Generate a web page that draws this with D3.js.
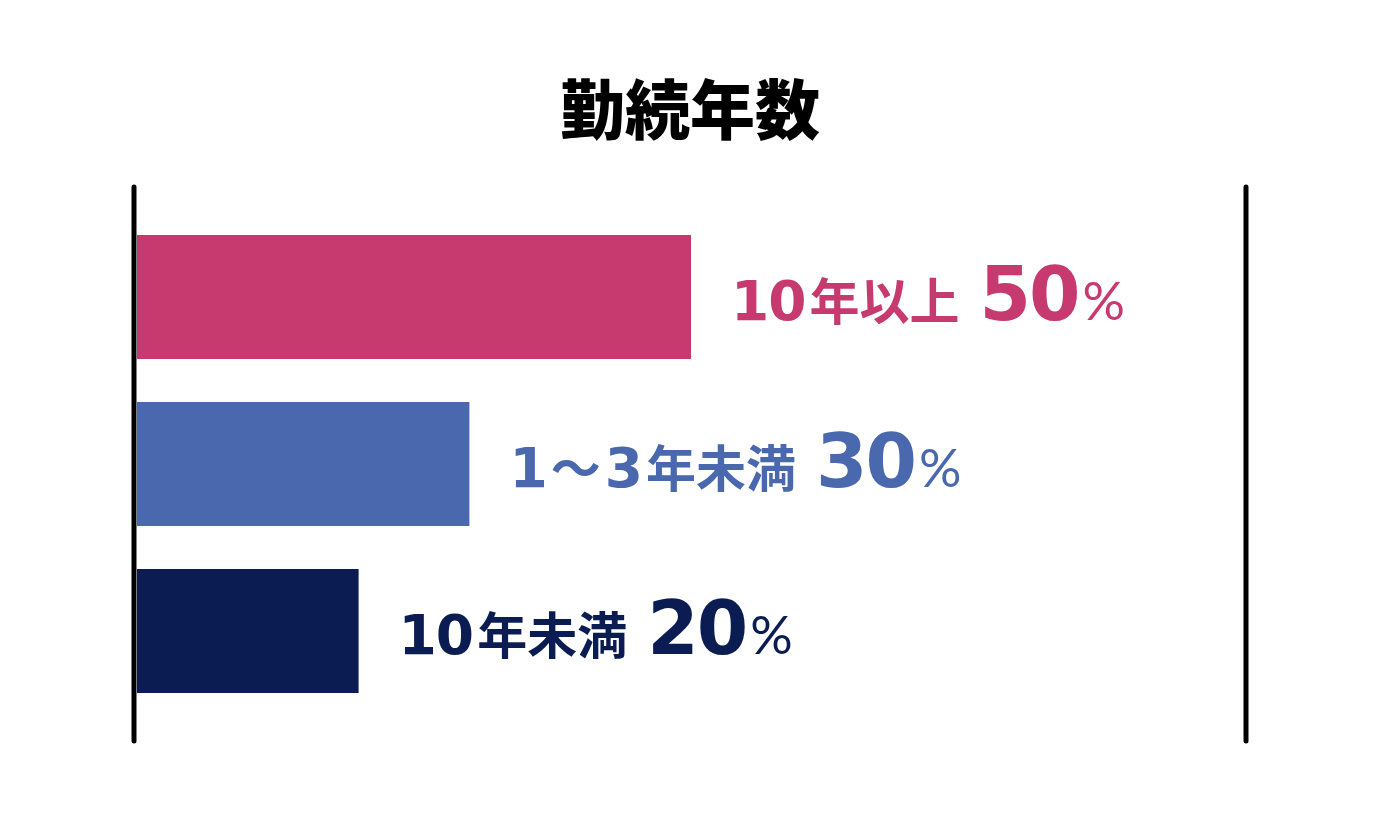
<!DOCTYPE html>
<html>
<head>
<meta charset="utf-8">
<script src="https://cdn.jsdelivr.net/npm/d3@7"></script>
<style>
  html, body { margin: 0; padding: 0; background: #fff; }
  svg { display: block; font-family: "Noto Sans CJK JP", "Noto Sans", sans-serif; }
</style>
</head>
<body>
<div id="chart"></div>
<script>
// chart data
const title = "勤続年数";
const categories = ["10年以上", "1～3年未満", "10年未満"];
const values = [50, 30, 20];
const colors = ["#C73A6F", "#4A68AE", "#0B1C52"];

(function () {
  const width = 1381, height = 826;
  const svg = d3.select("#chart")
    .append("svg")
    .attr("width", width)
    .attr("height", height);

  const x = d3.scaleLinear().domain([0, 100]).range([137, 1245]);
  const y = d3.scaleBand()
    .domain(categories)
    .range([213.5, 714.5])
    .paddingInner(0.2575)
    .paddingOuter(0.12875);

  const data = categories.map((c, i) => ({ cat: c, value: values[i], color: colors[i] }));

  // title
  svg.append("text")
    .attr("x", 690)
    .attr("y", 134)
    .attr("text-anchor", "middle")
    .style("font-size", "65px")
    .style("font-weight", 900)
    .attr("fill", "#000")
    .text(title);

  // bars
  svg.append("g")
    .selectAll("rect")
    .data(data)
    .enter()
    .append("rect")
    .attr("x", x(0))
    .attr("y", d => y(d.cat))
    .attr("width", d => x(d.value) - x(0))
    .attr("height", y.bandwidth())
    .attr("fill", d => d.color);

  // side lines
  [x(0) - 3, x(100) + 1].forEach(lx => {
    svg.append("line")
      .attr("x1", lx).attr("x2", lx)
      .attr("y1", 187).attr("y2", 741)
      .attr("stroke", "#000")
      .attr("stroke-width", 5)
      .attr("stroke-linecap", "round");
  });

  // split a label into digit / non-digit runs so the digits get the latin font
  const runs = s => s.match(/[0-9]+|[^0-9]+/g).map(t => ({ t, digit: /^[0-9]/.test(t) }));

  const labels = svg.append("g")
    .selectAll("text")
    .data(data)
    .enter()
    .append("text")
    .attr("x", d => x(d.value) + 40)
    .attr("y", d => y(d.cat) + y.bandwidth() / 2 + 23)
    .attr("fill", d => d.color);

  labels.selectAll("tspan.run")
    .data(d => runs(d.cat))
    .enter()
    .append("tspan")
    .attr("class", "run")
    .attr("dx", (r, i) => (i > 0 ? 4 : 0))
    .style("font-family", r => r.digit ? "'DejaVu Sans', sans-serif" : "'Noto Sans CJK JP', sans-serif")
    .style("font-weight", 700)
    .style("font-size", r => r.digit ? "55px" : "50px")
    .style("letter-spacing", r => r.digit ? "-1px" : "0px")
    .text(r => r.t);

  labels.append("tspan")
    .attr("dx", 20)
    .style("font-family", "'DejaVu Sans', sans-serif")
    .style("font-weight", 700)
    .style("font-size", "74px")
    .style("letter-spacing", "-2px")
    .text(d => d.value);

  labels.append("tspan")
    .attr("dx", 4)
    .style("font-family", "Lato, sans-serif")
    .style("font-size", "53px")
    .style("font-weight", 400)
    .text("%");
})();
</script>
</body>
</html>
